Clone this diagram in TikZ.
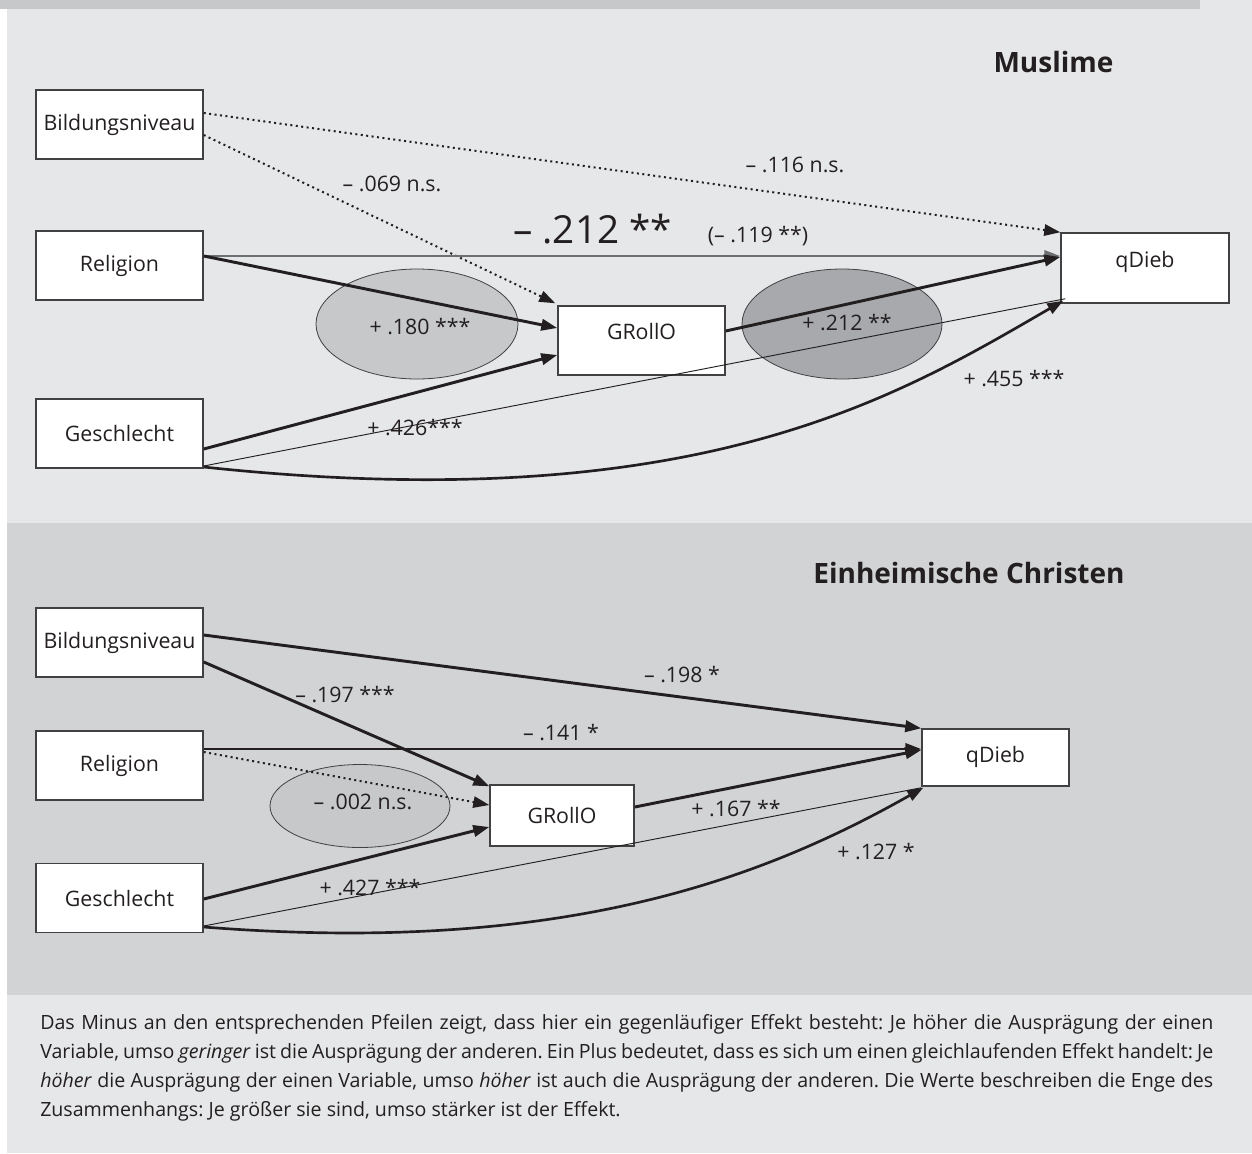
\documentclass[tikz,border=0pt]{standalone}
\usepackage{fontspec}
\setmainfont{Open Sans}
\usetikzlibrary{arrows.meta,calc}
\definecolor{lightbg}{RGB}{230,231,232}
\definecolor{darkbg}{RGB}{209,211,212}
\definecolor{stripc}{RGB}{199,200,202}
\definecolor{ellA}{RGB}{199,200,202}
\definecolor{ellB}{RGB}{167,169,172}
\definecolor{ink}{RGB}{35,31,32}
\definecolor{grayline}{RGB}{110,111,114}
\definecolor{boxline}{RGB}{65,64,66}
\frenchspacing
\begin{document}
\begin{tikzpicture}[x=0.75pt,y=-0.75pt,
  var/.style={draw=boxline,line width=1.1pt,fill=white,inner sep=0pt,
    minimum width=125.25pt,minimum height=51.75pt,
    font=\fontsize{16}{19}\selectfont,text=ink},
  lbl/.style={font=\fontsize{16}{19}\selectfont,text=ink,inner sep=0pt},
  heading/.style={font=\fontsize{21}{24}\selectfont\bfseries,text=ink,inner sep=0pt},
  caption/.style={font=\fontsize{14.7}{20}\selectfont,text=ink,inner sep=0pt,anchor=base west},
  thickarrow/.style={draw=ink,line width=2.2pt,-{Triangle[length=12pt,width=8.5pt]}},
  grayarrow/.style={draw=grayline,line width=2pt,-{Triangle[length=12pt,width=8.5pt]}},
  dotarrow/.style={draw=ink,line width=1.5pt,dash pattern=on 1.5pt off 2.6pt,-{Triangle[length=12pt,width=8.5pt]}},
  thinline/.style={draw=ink,line width=0.7pt},
  curvearrow/.style={draw=ink,line width=2pt,-{Triangle[length=12pt,width=8.5pt]}},
  ellipsebg/.style={draw=boxline,line width=0.6pt}
]
\useasboundingbox (0,0) rectangle (1252,1153);
% backgrounds
\fill[white] (0,0) rectangle (1252,1153);
\fill[lightbg] (7,0) rectangle (1252,523);
\fill[stripc] (0,0) rectangle (1200,8.5);
\fill[darkbg] (7,523) rectangle (1252,995);
\fill[lightbg] (7,995) rectangle (1252,1153);

% ===== Muslime =====
\node[heading] (hm) at (1053.5,62) {Muslime};
\fill[ellA,ellipsebg] (417,324) ellipse [x radius=101, y radius=55];
\fill[ellB,ellipsebg] (842,324) ellipse [x radius=100, y radius=55];

\node[var] (bild) at (119.5,124.5) {Bildungsniveau};
\node[var] (rel) at (119.5,265.5) {Religion};
\node[var] (ges) at (119.5,433.5) {Geschlecht};
\node[var] (grollo) at (641.5,340.5) {\raisebox{13.5pt}{GRollO}};
\node[var,minimum width=126pt,minimum height=52.5pt] (qdieb) at (1145,268) {\raisebox{13.5pt}{qDieb}};

\draw[dotarrow] ($(bild.east)+(0,-11.5)$) -- (qdieb.north west);
\draw[dotarrow] ($(bild.east)+(0,10.5)$) -- ($(grollo.north west)+(-2,-2)$);
\draw[grayarrow] ($(rel.east)+(0,-9.5)$) -- ($(qdieb.west)+(0,-12)$);
\draw[thickarrow] ($(rel.east)+(0,-9.5)$) -- ($(grollo.west)+(0,-12.5)$);
\draw[thickarrow] ($(grollo.east)+(0,-9.5)$) -- ($(qdieb.west)+(0,-11)$);
\draw[thickarrow] ($(ges.east)+(0,15.5)$) -- ($(grollo.west)+(0,14.5)$);
\draw[thinline] ($(ges.east)+(0,32.5)$) -- ($(qdieb.south west)+(5,-5)$);
\draw[curvearrow] ($(ges.east)+(0,33.5)$) .. controls (700,520) and (900,395) .. ($(qdieb.south west)+(3,-3)$);

\node[lbl] (l1) at (795,165) {– .116 n.s.};
\node[lbl] (l2) at (392,184) {– .069 n.s.};
\node[lbl,font=\fontsize{29}{32}\selectfont,anchor=base west] (l3) at (513,243) {– .212 **};
\node[lbl] (l4) at (758,236) {(– .119 **)};
\node[lbl] (l5) at (420,327) {+ .180 ***};
\node[lbl] (l6) at (847,323) {+ .212 **};
\node[lbl] (l7) at (1014,379) {+ .455 ***};
\node[lbl] (l8) at (415,428) {+ .426***};

% ===== Einheimische Christen =====
\node[heading] (hc) at (969,573) {Einheimische Christen};
\fill[ellA,ellipsebg] (360,806) ellipse [x radius=90, y radius=41.5];

\node[var] (bild2) at (119.5,642.5) {Bildungsniveau};
\node[var] (rel2) at (119.5,765.5) {Religion};
\node[var] (ges2) at (119.5,898) {Geschlecht};
\node[var,minimum width=108pt,minimum height=45.75pt] (grollo2) at (562,815.5) {GRollO};
\node[var,minimum width=110.25pt,minimum height=42.75pt] (qdieb2) at (995.5,757.5) {\raisebox{4pt}{qDieb}};

\draw[thickarrow] ($(bild2.east)+(0,-7.5)$) -- (qdieb2.north west);
\draw[thickarrow] ($(bild2.east)+(0,19.5)$) -- ($(grollo2.north west)+(0,2)$);
\draw[thickarrow] ($(rel2.east)+(0,-16.5)$) -- ($(qdieb2.west)+(0,-8.5)$);
\draw[dotarrow] ($(rel2.east)+(0,-13.5)$) -- ($(grollo2.west)+(0,-10.5)$);
\draw[thickarrow] ($(ges2.east)+(0,1)$) -- ($(grollo2.west)+(0,11.5)$);
\draw[thickarrow] ($(grollo2.east)+(0,-8.5)$) -- ($(qdieb2.west)+(0,-7.5)$);
\draw[thinline] ($(ges2.east)+(0,28)$) -- ($(qdieb2.south west)+(0,1)$);
\draw[curvearrow] ($(ges2.east)+(0,29)$) .. controls (560,955) and (760,880) .. ($(qdieb2.south west)+(2,1)$);

\node[lbl] (m1) at (345,695) {– .197 ***};
\node[lbl] (m2) at (682,675) {– .198 *};
\node[lbl] (m3) at (561,733) {– .141 *};
\node[lbl] (m4) at (363,802) {– .002 n.s.};
\node[lbl] (m5) at (370,888) {+ .427 ***};
\node[lbl] (m6) at (736,809) {+ .167 **};
\node[lbl] (m7) at (876,852) {+ .127 *};

% ===== caption =====
\node[caption] (c1) at (40,1029) {\makebox[879.75pt][s]{Das Minus an den entsprechenden Pfeilen zeigt, dass hier ein gegenläufiger Effekt besteht: Je höher die Ausprägung der einen}};
\node[caption] (c2) at (40,1058) {\makebox[879.75pt][s]{Variable, umso \textit{geringer} ist die Ausprägung der anderen. Ein Plus bedeutet, dass es sich um einen gleichlaufenden Effekt handelt: Je}};
\node[caption] (c3) at (40,1087) {\makebox[879.75pt][s]{\textit{höher} die Ausprägung der einen Variable, umso \textit{höher} ist auch die Ausprägung der anderen. Die Werte beschreiben die Enge des}};
\node[caption] (c4) at (40,1116) {Zusammenhangs: Je größer sie sind, umso stärker ist der Effekt.};
\end{tikzpicture}
\end{document}
